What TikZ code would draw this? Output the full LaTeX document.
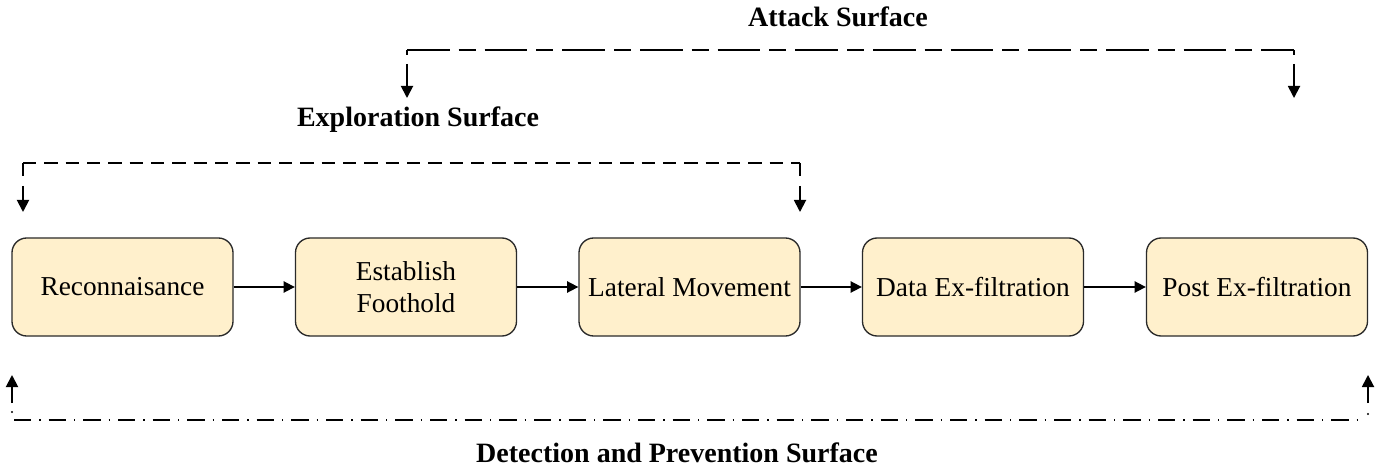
\documentclass[tikz,border=0pt]{standalone}
\usepackage{fontspec}
\setmainfont{Liberation Serif}
\usetikzlibrary{arrows.meta}
\definecolor{boxfill}{HTML}{FFF0CC}
\definecolor{boxdraw}{HTML}{2A2A2A}
\tikzset{
  stage/.style={draw=boxdraw, fill=boxfill, line width=1pt, rounded corners=11pt,
    minimum width=165.75pt, minimum height=73.5pt, align=center, inner sep=0pt,
    font=\fontsize{20.5}{24}\selectfont},
  flow/.style={line width=1.3pt, -{Triangle[length=8.5pt,width=8.5pt]}},
  explline/.style={line width=1.4pt, dash pattern=on 10pt off 6pt},
  attline/.style={line width=1.4pt, dash pattern=on 32pt off 6.75pt on 12.75pt off 6.75pt},
  detline/.style={line width=1.4pt, dash pattern=on 13pt off 6pt on 1pt off 6pt},
  tip/.style={line width=1.4pt, -{Triangle[length=9pt,width=9pt]}},
  surf/.style={font=\fontsize{21}{25}\selectfont\bfseries}
}
\begin{document}
\begin{tikzpicture}[x=0.75pt, y=-0.75pt]
\path[fill=white] (0,0) rectangle (1395,470);
\useasboundingbox (0,0) rectangle (1395,470);

\node[stage] (s1) at (122.5,287) {Reconnaisance};
\node[stage] (s2) at (406,287) {Establish\\Foothold};
\node[stage] (s3) at (689.5,287) {Lateral Movement};
\node[stage] (s4) at (973,287) {Data Ex-filtration};
\node[stage] (s5) at (1257,287) {Post Ex-filtration};

\draw[flow] (s1) -- (s2);
\draw[flow] (s2) -- (s3);
\draw[flow] (s3) -- (s4);
\draw[flow] (s4) -- (s5);

% Exploration surface
\coordinate (eL) at (23,212);
\coordinate (eLt) at (23,163);
\coordinate (eRt) at (800,163);
\coordinate (eR) at (800,212);
\draw[explline] (eLt) -- (eRt);
\draw[explline] (eLt) -- (23,180);
\draw[explline] (eRt) -- (800,180);
\coordinate (eLs) at (23,186);
\coordinate (eRs) at (800,186);
\draw[tip] (eLs) -- (eL);
\draw[tip] (eRs) -- (eR);
\node[surf] (expl) at (418,120) {Exploration Surface};

% Attack surface
\coordinate (aLt) at (407,50);
\coordinate (aRt) at (1294,50);
\coordinate (aLs) at (407,64);
\coordinate (aRs) at (1294,64);
\coordinate (aL) at (407,98);
\coordinate (aR) at (1294,98);
\draw[attline] (aLt) -- (aRt);
\draw[line width=1.4pt] (aLt) -- (407,55);
\draw[line width=1.4pt] (aRt) -- (1294,55);
\draw[tip] (aLs) -- (aL);
\draw[tip] (aRs) -- (aR);
\node[surf] (att) at (838,17) {Attack Surface};

% Detection and prevention surface
\coordinate (dLb) at (14,420);
\coordinate (dRb) at (1366,420);
\coordinate (dLs) at (12,403);
\coordinate (dRs) at (1368,403);
\coordinate (dL) at (12,375);
\coordinate (dR) at (1368,375);
\draw[detline] (dLb) -- (dRb);
\fill (12,412) circle (0.9pt);
\fill (1368,414) circle (0.9pt);
\draw[tip] (dLs) -- (dL);
\draw[tip] (dRs) -- (dR);
\node[surf] (det) at (677,453) {Detection and Prevention Surface};
\end{tikzpicture}
\end{document}
